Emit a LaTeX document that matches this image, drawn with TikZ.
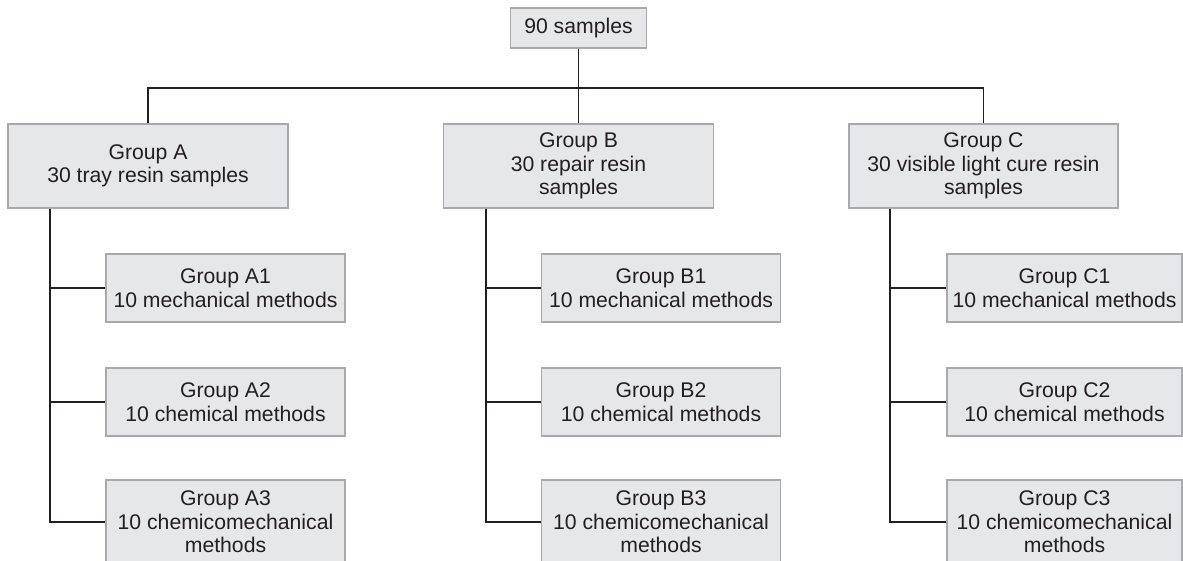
\documentclass[tikz,border=0pt]{standalone}
\usepackage{fontspec}
\setmainfont{Liberation Sans}
\definecolor{boxfill}{HTML}{E6E7E8}
\definecolor{boxline}{HTML}{A7A9AC}
\definecolor{ink}{HTML}{231F20}
\begin{document}
\begin{tikzpicture}[x=1pt,y=-1pt,
  box/.style={draw=boxline,fill=boxfill,line width=1.2pt,align=center,text=ink,
    font=\fontsize{21.2}{23.5}\selectfont,inner sep=0pt},
  topbox/.style={box,minimum width=136pt,minimum height=40pt},
  groupbox/.style={box,minimum width=280pt,minimum height=84pt},
  subbox/.style={box,minimum width=239pt,minimum height=68pt},
  subboxbig/.style={box,minimum width=239pt,minimum height=84pt},
  conn/.style={draw=ink,line width=1.3pt}]
\useasboundingbox (0,0) rectangle (1183,560);
\clip (0,0) rectangle (1183,560);
\node[topbox] (top) at (578.5,28) {90 samples};
\node[groupbox] (A) at (148,166) {Group A\\30 tray resin samples};
\node[groupbox,minimum width=270pt] (B) at (578.5,166) {Group B\\30 repair resin\\samples};
\node[groupbox,minimum width=269pt] (C) at (983.5,166) {Group C\\30 visible light cure resin\\samples};
\coordinate (bar) at (578.5,88);
\draw[conn] (top.south) -- (bar);
\draw[conn] (A.north) |- (bar) -| (C.north);
\draw[conn] (bar) -- (B.north);
% subgroups
\foreach \g/\x/\lx/\w in {A/225.5/50/239,B/661/486/239,C/1064.5/890/235}{
  \node[subbox,minimum width=\w pt] (\g1) at (\x,288) {Group \g1\\10 mechanical methods};
  \node[subbox,minimum width=\w pt] (\g2) at (\x,402) {Group \g2\\10 chemical methods};
  \node[subboxbig,minimum width=\w pt] (\g3) at (\x,522) {Group \g3\\10 chemicomechanical\\methods};
  \coordinate (\g v) at (\lx,0);
  \draw[conn] (\g v |- \g.south) |- (\g3.west);
  \draw[conn] (\g v |- \g1.west) -- (\g1.west);
  \draw[conn] (\g v |- \g2.west) -- (\g2.west);
}
\end{tikzpicture}
\end{document}
